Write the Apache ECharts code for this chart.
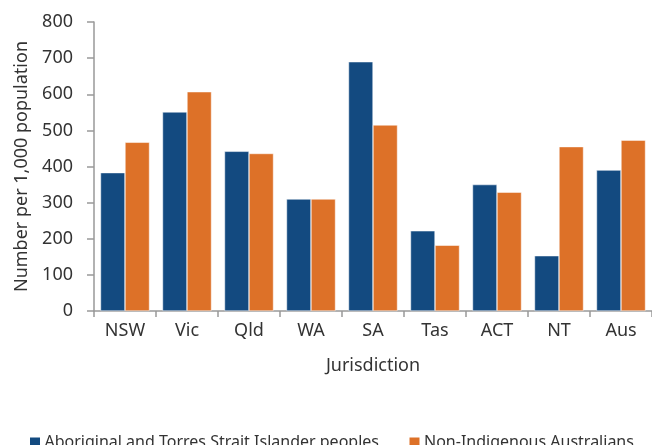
<!DOCTYPE html>
<html><head><meta charset="utf-8">
<script src="https://cdn.jsdelivr.net/npm/echarts@6/dist/echarts.min.js"></script>
<style>html,body{margin:0;padding:0;background:#fff}#c{width:652px;height:445px}</style>
</head><body><div id="c"></div>
<script>
const categories = ['NSW','Vic','Qld','WA','SA','Tas','ACT','NT','Aus'];
const seriesNames = ['Aboriginal and Torres Strait Islander peoples','Non-Indigenous Australians'];
const indigenous = [383, 551, 442, 310, 690, 222, 350, 153, 390];
const nonIndigenous = [467, 607, 436, 310, 515, 182, 329, 455, 473];
const yTicks = [0,100,200,300,400,500,600,700,800];

const FONT = 'Noto Sans';
const chart = echarts.init(document.getElementById('c'), null, {renderer:'canvas'});
chart.setOption({
  animation:false,
  textStyle:{fontFamily:FONT},
  grid:{left:94, top:22, width:559, height:289, containLabel:false},
  legend:[
    {data:[seriesNames[0]], left:23, top:429, itemWidth:12, itemHeight:11, itemGap:0,
     textStyle:{fontFamily:FONT, fontSize:16, color:'#333', padding:[0,0,0,-1.5]}, icon:'rect'},
    {data:[seriesNames[1]], left:402.5, top:429, itemWidth:12, itemHeight:11, itemGap:0,
     textStyle:{fontFamily:FONT, fontSize:16, color:'#333', padding:[0,0,0,-1.5]}, icon:'rect'}
  ],
  xAxis:{
    type:'category', data:categories,
    name:'Jurisdiction', nameLocation:'middle', nameGap:46,
    nameTextStyle:{fontFamily:FONT, fontSize:18, color:'#333'},
    axisLine:{lineStyle:{color:'#999', width:1.5}},
    axisTick:{show:true, length:6, lineStyle:{color:'#999', width:1.5}},
    axisLabel:{fontFamily:FONT, fontSize:18, color:'#333', margin:11}
  },
  yAxis:{
    type:'value', min:0, max:800, interval:100,
    name:'Number per 1,000 population', nameLocation:'middle', nameGap:63.5, nameRotate:90,
    nameTextStyle:{fontFamily:FONT, fontSize:18, color:'#333'},
    axisLine:{show:true, lineStyle:{color:'#999', width:1.5}},
    axisTick:{show:true, length:7, lineStyle:{color:'#999', width:1.5}},
    splitLine:{show:false},
    axisLabel:{fontFamily:FONT, fontSize:18, color:'#333', margin:21,
      formatter:(v)=> yTicks.includes(v) ? String(v) : ''}
  },
  series:[
    {name:seriesNames[0], type:'bar', data:indigenous, barWidth:24.5, barGap:'0%',
     itemStyle:{color:'#134A80', borderColor:'#ffffff', borderWidth:0.5}},
    {name:seriesNames[1], type:'bar', data:nonIndigenous, barWidth:24.5, barGap:'0%',
     itemStyle:{color:'#DD7128', borderColor:'#ffffff', borderWidth:0.5}}
  ]
});
</script></body></html>
